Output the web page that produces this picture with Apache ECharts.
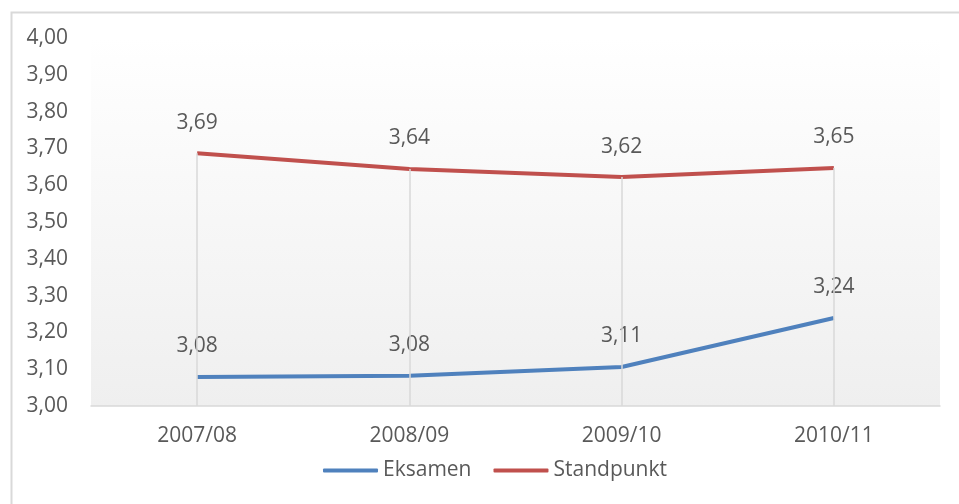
<!DOCTYPE html>
<html><head><meta charset="utf-8">
<script src="https://cdn.jsdelivr.net/npm/echarts@6/dist/echarts.min.js"></script>
<style>html,body{margin:0;padding:0;background:#fff}#c{width:959px;height:504px}</style>
</head><body><div id="c"></div>
<script>
const categories = ['2007/08', '2008/09', '2009/10', '2010/11'];
const eksamen = [3.079, 3.082, 3.106, 3.239];
const standpunkt = [3.687, 3.644, 3.622, 3.647];
const yMin = 3.0, yMax = 4.0, yStep = 0.1;

const fmt = v => (Math.round(v * 100) / 100).toFixed(2).replace('.', ',');
const font = '"Open Sans", sans-serif';
const txt = '#595959';
const fs = 21;

const chart = echarts.init(document.getElementById('c'));
chart.setOption({
  animation: false,
  graphic: [{
    type: 'rect', left: 9, top: 10, shape: { width: 1000, height: 600 },
    style: { fill: 'none', stroke: '#d9d9d9', lineWidth: 2 }, silent: true
  }],
  grid: {
    left: 91, right: 19, top: 38, bottom: 98, show: true, borderWidth: 0,
    backgroundColor: new echarts.graphic.LinearGradient(0, 0, 0, 1, [
      { offset: 0, color: '#ffffff' }, { offset: 0.12, color: '#fdfdfd' }, { offset: 1, color: '#efefef' }
    ])
  },
  legend: {
    bottom: 18, left: 318, itemWidth: 55, itemHeight: 4, itemGap: 22, icon: 'roundRect',
    textStyle: { color: txt, fontSize: fs, fontFamily: font },
    data: ['Eksamen', 'Standpunkt']
  },
  xAxis: {
    type: 'category', data: categories, boundaryGap: true,
    axisLine: { lineStyle: { color: '#d9d9d9', width: 1.5 } },
    axisTick: { show: false },
    axisLabel: { color: txt, fontSize: fs, fontFamily: font, margin: 20 },
    splitLine: { show: false }
  },
  yAxis: {
    type: 'value', min: yMin, max: yMax, interval: yStep,
    axisLine: { show: false }, axisTick: { show: false },
    splitLine: { show: false },
    axisLabel: { color: txt, fontSize: fs, fontFamily: font, margin: 23, formatter: v => v.toFixed(2).replace('.', ',') }
  },
  series: [
    {
      name: 'Eksamen', type: 'line', data: eksamen, color: '#4f81bd',
      symbol: 'circle', symbolSize: 0.1, lineStyle: { width: 4, color: '#4f81bd' },
      label: { show: true, position: 'top', distance: 20, color: txt, fontSize: fs, fontFamily: font, formatter: p => fmt(p.value) },
      markLine: { silent: true, symbol: 'none', label: { show: false }, lineStyle: { color: '#d9d9d9', type: 'solid', width: 1.5 },
        data: categories.map((c, i) => [{ xAxis: c, yAxis: yMin }, { xAxis: c, yAxis: standpunkt[i] }]) },
      z: 3
    },
    {
      name: 'Standpunkt', type: 'line', data: standpunkt, color: '#c0504d',
      symbol: 'circle', symbolSize: 0.1, lineStyle: { width: 4, color: '#c0504d' },
      label: { show: true, position: 'top', distance: 20, color: txt, fontSize: fs, fontFamily: font, formatter: p => fmt(p.value) },
      z: 3
    }
  ]
});
</script></body></html>
